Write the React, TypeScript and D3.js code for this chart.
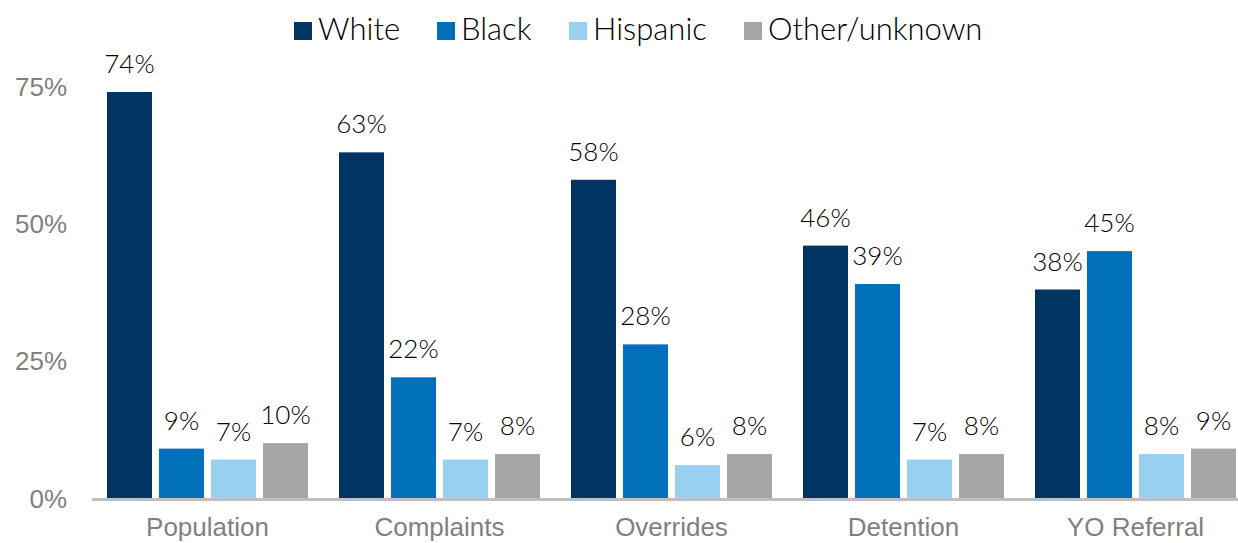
import React from "react";
import * as d3 from "d3";

const categories = ["Population", "Complaints", "Overrides", "Detention", "YO Referral"];
const seriesNames = ["White", "Black", "Hispanic", "Other/unknown"];
const white = [74, 63, 58, 46, 38];
const black = [9, 22, 28, 39, 45];
const hispanic = [7, 7, 6, 7, 8];
const other = [10, 8, 8, 8, 9];
const yTicks = [0, 25, 50, 75];
const colors = ["#003462", "#0070BA", "#97D0F0", "#A5A5A5"];

const W = 1238;
const H = 543;
const humanist = "Lato, 'Open Sans', sans-serif";
const arial = "'Liberation Sans', Arial, sans-serif";

export default function App() {
  const values = [white, black, hispanic, other];
  const x0 = d3.scaleBand<string>().domain(categories).range([91.5, 91.5 + 232 * 5]).padding(0);
  const x1 = d3.scaleBand<string>().domain(seriesNames).range([15.5, 216.5]).paddingInner(7 / 52).paddingOuter(0);
  const y = d3.scaleLinear().domain([0, 75]).range([498, 86.5]);

  const legendTextX = [318, 461, 593, 768];

  return (
    <svg width={W} height={H} style={{ position: "absolute", left: 0, top: 0, background: "#fff" }}>
      {seriesNames.map((s, i) => (
        <g key={s}>
          <rect x={legendTextX[i] - 24} y={22} width={18} height={18} fill={colors[i]} />
          <text x={legendTextX[i]} y={40} fontFamily={humanist} fontWeight={300} fontSize={31} fill="#000">
            {s}
          </text>
        </g>
      ))}
      {yTicks.map((t) => (
        <text key={t} x={67} y={y(t) + 9.5} textAnchor="end" fontFamily={arial} fontSize={26} fill="#808080">
          {t}%
        </text>
      ))}
      {categories.map((c, ci) => (
        <g key={c} transform={`translate(${x0(c)},0)`}>
          {seriesNames.map((s, si) => {
            const v = values[si][ci];
            return (
              <g key={s}>
                <rect x={x1(s)} y={y(v)} width={x1.bandwidth()} height={y(0) - y(v)} fill={colors[si]} />
                <text x={(x1(s) as number) + x1.bandwidth() / 2} y={y(v) - 19} textAnchor="middle" fontFamily={humanist} fontWeight={300} fontSize={26} fill="#000">
                  {v}%
                </text>
              </g>
            );
          })}
          <text x={x0.bandwidth() / 2} y={536} textAnchor="middle" fontFamily={arial} fontSize={26} fill="#808080">
            {c}
          </text>
        </g>
      ))}
      <line x1={92} x2={W} y1={499.5} y2={499.5} stroke="#BFBFBF" strokeWidth={3} />
    </svg>
  );
}
